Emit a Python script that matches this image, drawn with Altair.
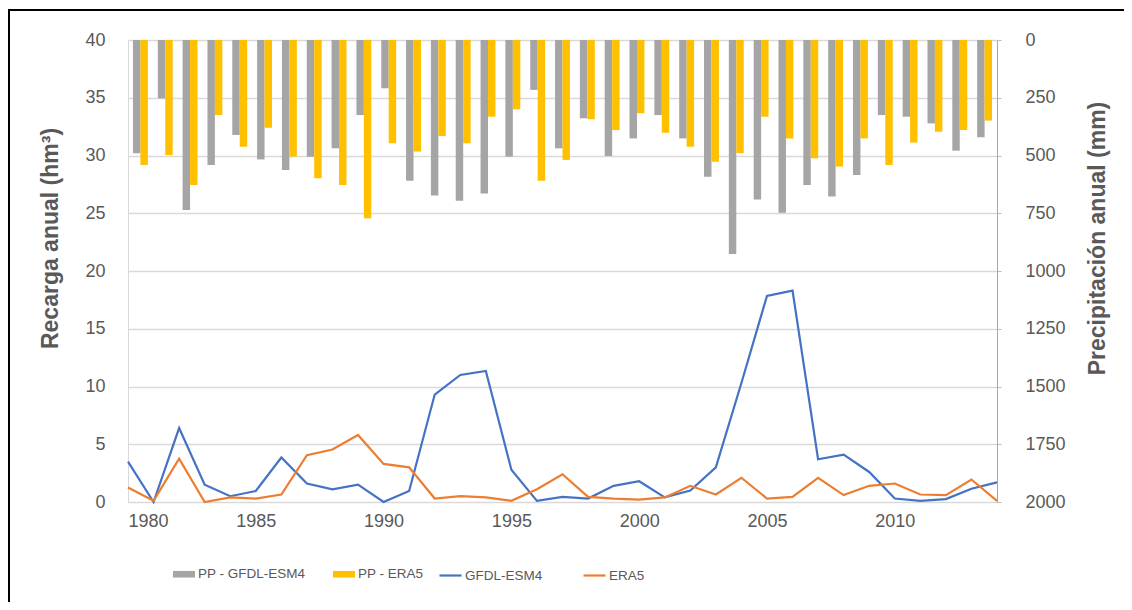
import altair as alt
import pandas as pd

years = list(range(1980, 2015))

# Annual precipitation (mm), right axis (reversed)
pp_gfdl = [490, 253, 736, 541, 411, 517, 563, 505, 469, 325, 209, 609, 673, 696, 664,
           505, 216, 469, 339, 502, 426, 325, 426, 592, 926, 690, 748, 628, 678, 584,
           325, 332, 361, 479, 421]
pp_era5 = [541, 498, 628, 325, 462, 380, 505, 599, 628, 772, 447, 483, 416, 447, 332,
           300, 609, 519, 343, 390, 317, 401, 462, 527, 490, 332, 426, 512, 548, 426,
           541, 444, 397, 390, 349]

# Annual recharge (hm3), left axis
rec_gfdl = [3.5, 0.0, 6.4, 1.5, 0.5, 0.95, 3.85, 1.6, 1.1, 1.5, 0.0, 0.95, 9.3, 11.0, 11.35,
            2.8, 0.1, 0.45, 0.3, 1.4, 1.8, 0.4, 1.0, 3.0, 10.3, 17.85, 18.3, 3.7, 4.1, 2.6,
            0.3, 0.1, 0.25, 1.15, 1.7]
rec_era5 = [1.25, 0.1, 3.75, 0.0, 0.4, 0.3, 0.65, 4.05, 4.55, 5.8, 3.3, 3.0, 0.3, 0.5, 0.4,
            0.1, 1.1, 2.4, 0.45, 0.3, 0.2, 0.4, 1.4, 0.65, 2.1, 0.3, 0.45, 2.1, 0.6, 1.4,
            1.6, 0.65, 0.6, 1.95, 0.1]

bar_series = ["PP - GFDL-ESM4", "PP - ERA5"]
line_series = ["GFDL-ESM4", "ERA5"]
bar_colors = ["#A5A5A5", "#FFC000"]
line_colors = ["#4472C4", "#ED7D31"]
x_labels = [1980, 1985, 1990, 1995, 2000, 2005, 2010]

n = len(years)
bars_df = pd.DataFrame({
    "year": years * 2,
    "serie": [bar_series[0]] * n + [bar_series[1]] * n,
    "pp": pp_gfdl + pp_era5,
})
lines_df = pd.DataFrame({
    "year": years * 2,
    "serie": [line_series[0]] * n + [line_series[1]] * n,
    "rec": rec_gfdl + rec_era5,
})

W, H = 869, 462
FONT = "Liberation Sans"
TXT = "#595959"

bars = alt.Chart(bars_df).mark_bar().encode(
    x=alt.X("year:O", axis=None,
            scale=alt.Scale(paddingInner=0.4, paddingOuter=0.2)),
    xOffset=alt.XOffset("serie:N", sort=bar_series,
                        scale=alt.Scale(domain=bar_series, paddingInner=0, paddingOuter=0)),
    y=alt.Y("pp:Q",
            scale=alt.Scale(domain=[0, 2000], reverse=True, nice=False),
            axis=alt.Axis(orient="right", values=list(range(0, 2001, 250)), format="d",
                          title="Precipitación anual (mm)", grid=False,
                          domain=True, domainColor="#A6A6A6",
                          ticks=True, tickSize=4, tickColor="#BFBFBF",
                          labelPadding=24, labelFontSize=18, labelColor=TXT,
                          labelFont=FONT,
                          titleFont=FONT, titleFontSize=23, titleFontWeight="bold",
                          titleColor=TXT, titleAngle=270, titleX=100, titleY=198,
                          titleBaseline="middle", titleAlign="center")),
    color=alt.Color("serie:N",
                    scale=alt.Scale(domain=bar_series, range=bar_colors),
                    legend=alt.Legend(title=None, orient="none", direction="horizontal",
                                      legendX=45, legendY=523,
                                      symbolType="M-1,-0.3H1V0.3H-1Z",
                                      symbolSize=484, symbolStrokeWidth=0,
                                      labelFont=FONT, labelFontSize=13.5,
                                      labelColor=TXT, labelOffset=3,
                                      columnPadding=27)),
)

lines = alt.Chart(lines_df).mark_line(strokeWidth=2.2).encode(
    x=alt.X("year:Q",
            scale=alt.Scale(domain=[1980, 2014], nice=False, zero=False),
            axis=alt.Axis(values=x_labels, format="d", title=None, grid=False,
                          domain=True, domainColor="#D9D9D9", ticks=False,
                          labelPadding=10, labelFontSize=18, labelColor=TXT,
                          labelFont=FONT)),
    y=alt.Y("rec:Q",
            scale=alt.Scale(domain=[0, 40], nice=False),
            axis=alt.Axis(orient="left", values=list(range(0, 41, 5)),
                          title="Recarga anual (hm³)", grid=True, gridColor="#D9D9D9",
                          gridWidth=1.5,
                          domain=True, domainColor="#D9D9D9", ticks=False,
                          labelPadding=23, labelFontSize=18, labelColor=TXT,
                          labelFont=FONT,
                          titleFont=FONT, titleFontSize=23, titleFontWeight="bold",
                          titleColor=TXT, titleAngle=270, titleX=-78, titleY=198,
                          titleBaseline="middle", titleAlign="center")),
    color=alt.Color("serie:N",
                    scale=alt.Scale(domain=line_series, range=line_colors),
                    legend=alt.Legend(title=None, orient="none", direction="horizontal",
                                      legendX=310, legendY=523,
                                      symbolType="stroke", symbolSize=484,
                                      symbolStrokeWidth=2.2,
                                      labelFont=FONT, labelFontSize=13.5,
                                      labelColor=TXT, labelOffset=2,
                                      columnPadding=36)),
    order=alt.Order("year:Q"),
)

frame = alt.Chart(alt.Data(values=[{}])).mark_rect(
    fill="transparent", stroke="black", strokeWidth=2
).encode(
    x=alt.value(-119), x2=alt.value(W + 200),
    y=alt.value(-30), y2=alt.value(H + 200),
)

chart = alt.layer(bars, lines, frame).resolve_scale(
    x="independent", y="independent", color="independent"
).properties(
    width=W, height=H,
    autosize=alt.AutoSizeParams(type="none"),
    padding={"left": 120, "top": 32, "right": 127, "bottom": 100},
    background="white",
).configure_view(stroke=None)

chart.save("out.html", embed_options={"renderer": "svg", "actions": False})
